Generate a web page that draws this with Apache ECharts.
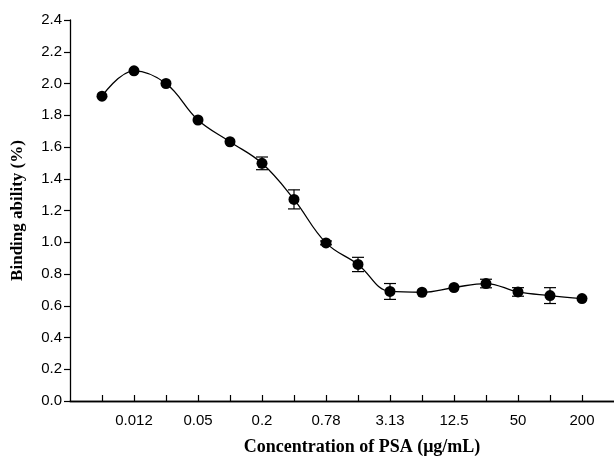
<!DOCTYPE html>
<html>
<head>
<meta charset="utf-8">
<script src="https://cdn.jsdelivr.net/npm/echarts@6/dist/echarts.min.js"></script>
<style>
  html, body { margin: 0; padding: 0; background: #fff; }
  #chart { width: 614px; height: 456px; }
</style>
</head>
<body>
<div id="chart"></div>
<script>
// PSA concentrations (ug/mL), lowest to highest, two-fold dilution
const concentrations = ['0.006', '0.012', '0.024', '0.05', '0.1', '0.2', '0.39', '0.78',
  '1.56', '3.13', '6.25', '12.5', '25', '50', '100', '200'];
const bindingAbility = [1.92, 2.08, 2.00, 1.77, 1.633, 1.497, 1.27, 0.996,
  0.86, 0.69, 0.685, 0.715, 0.74, 0.687, 0.664, 0.645];
const errors = [0, 0, 0, 0, 0, 0.04, 0.06, 0.012,
  0.045, 0.05, 0, 0, 0.027, 0.027, 0.05, 0];
const xTickLabels = ['0.012', '0.05', '0.2', '0.78', '3.13', '12.5', '50', '200'];

const positions = concentrations.map((c, i) => i + 1);
const labelPositions = positions.filter((p) => p % 2 === 0);

const chart = echarts.init(document.getElementById('chart'), null, { renderer: 'canvas' });

const tickFont = { fontFamily: 'Liberation Sans', fontSize: 15, color: '#000' };
const titleFont = { fontFamily: 'Liberation Serif', fontWeight: 'bold', color: '#000' };

chart.setOption({
  animation: false,
  backgroundColor: '#fff',
  grid: { left: 70, right: 0, top: 20, bottom: 55, outerBoundsMode: 'none' },
  xAxis: [
    {
      type: 'value',
      min: 0,
      max: 17,
      interval: 1,
      name: 'Concentration of PSA (μg/mL)',
      nameLocation: 'middle',
      nameGap: 37,
      nameTextStyle: Object.assign({}, titleFont, { fontSize: 18, padding: [0, 0, 0, 40] }),
      axisLine: { show: true, onZero: false, lineStyle: { color: '#000', width: 1.3 } },
      axisTick: { show: true, inside: true, length: 6, customValues: positions, lineStyle: { color: '#000', width: 1.2 } },
      axisLabel: Object.assign({}, tickFont, {
        margin: 12,
        customValues: labelPositions,
        formatter: (v) => xTickLabels[labelPositions.indexOf(v)] || ''
      }),
      splitLine: { show: false }
    },
    {
      type: 'value',
      position: 'top',
      min: 0,
      max: 17,
      axisLine: { show: true, lineStyle: { color: '#000', width: 1.3 } },
      axisTick: { show: false },
      axisLabel: { show: false },
      splitLine: { show: false }
    }
  ],
  yAxis: {
    type: 'value',
    min: 0,
    max: 2.4,
    interval: 0.2,
    name: 'Binding ability (%)',
    nameLocation: 'middle',
    nameGap: 44,
    nameTextStyle: Object.assign({}, titleFont, { fontSize: 17 }),
    axisLine: { show: true, lineStyle: { color: '#000', width: 1.3 } },
    axisTick: { show: true, inside: false, length: 6, lineStyle: { color: '#000', width: 1.2 } },
    axisLabel: Object.assign({}, tickFont, {
      margin: 8,
      formatter: (v) => v.toFixed(1)
    }),
    splitLine: { show: false }
  },
  series: [
    {
      type: 'custom',
      name: 'error',
      renderItem: (params, api) => {
        const x = api.value(0);
        const lo = api.coord([x, api.value(1)]);
        const hi = api.coord([x, api.value(2)]);
        const half = 6;
        const style = { stroke: '#000', lineWidth: 1.2 };
        return {
          type: 'group',
          children: [
            { type: 'line', shape: { x1: lo[0], y1: lo[1], x2: hi[0], y2: hi[1] }, style },
            { type: 'line', shape: { x1: lo[0] - half, y1: lo[1], x2: lo[0] + half, y2: lo[1] }, style },
            { type: 'line', shape: { x1: hi[0] - half, y1: hi[1], x2: hi[0] + half, y2: hi[1] }, style }
          ]
        };
      },
      data: positions
        .map((p, i) => [p, bindingAbility[i] - errors[i], bindingAbility[i] + errors[i]])
        .filter((d, i) => errors[i] > 0),
      z: 1
    },
    {
      type: 'line',
      name: 'Binding ability',
      smooth: 0.4,
      data: positions.map((p, i) => [p, bindingAbility[i]]),
      symbol: 'circle',
      symbolSize: 11,
      itemStyle: { color: '#000' },
      lineStyle: { color: '#000', width: 1.3 },
      z: 2
    }
  ]
});
</script>
</body>
</html>
